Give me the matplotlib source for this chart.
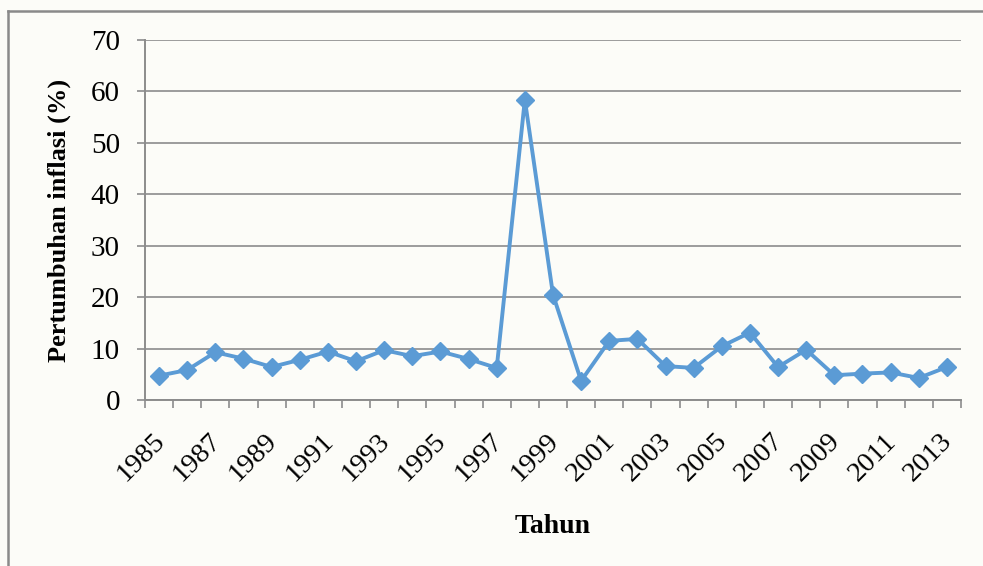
import matplotlib.pyplot as plt
from matplotlib.lines import Line2D
from matplotlib.ticker import FixedLocator
from matplotlib.transforms import ScaledTranslation

years = list(range(1985, 2014))
inflasi = [4.73, 5.83, 9.28, 8.04, 6.42, 7.81, 9.42, 7.53, 9.69, 8.52,
           9.43, 7.97, 6.23, 58.39, 20.49, 3.72, 11.50, 11.88, 6.59, 6.24,
           10.45, 13.11, 6.41, 9.78, 4.81, 5.13, 5.36, 4.28, 6.41]
y_ticks = [0, 10, 20, 30, 40, 50, 60, 70]

plt.rcParams["font.family"] = ["Liberation Serif", "DejaVu Serif"]
BG = "#fcfcf8"
GRID = "#8c8c8c"

fig = plt.figure(figsize=(9.83, 5.66), dpi=100, facecolor=BG)
ax = fig.add_axes([0.1475, 0.2933, 0.8301, 0.636])
ax.set_facecolor("none")

xs = list(range(len(years)))
ax.plot(xs, inflasi, color="#5b9bd5", linewidth=2.8, marker="D",
        markersize=9.5, markeredgecolor="#5b9bd5", markerfacecolor="#5b9bd5",
        zorder=3)

ax.set_xlim(-0.5, len(years) - 0.5)
ax.set_ylim(0, 70)
ax.set_yticks(y_ticks)
ax.set_yticklabels([str(v) for v in y_ticks], fontsize=21)
ax.yaxis.grid(True, color=GRID, linewidth=1.2)
ax.set_axisbelow(True)
ax.tick_params(axis="y", length=6, width=1.2, color=GRID, pad=12)

# category labels every other year, ticks on category boundaries
ax.set_xticks(xs[::2])
ax.set_xticklabels([str(y) for y in years[::2]], fontsize=20.5,
                   rotation=45, ha="right", va="top", rotation_mode="anchor")
ax.tick_params(axis="x", which="major", length=0, pad=12)
ax.xaxis.set_minor_locator(FixedLocator([i - 0.5 for i in range(len(years) + 1)]))
ax.tick_params(axis="x", which="minor", length=6, width=1.2, color=GRID)
shift = ScaledTranslation(-0.07, -0.12, fig.dpi_scale_trans)
for lab in ax.get_xticklabels():
    lab.set_transform(lab.get_transform() + shift)

for side in ["top", "right"]:
    ax.spines[side].set_visible(False)
for side in ["left", "bottom"]:
    ax.spines[side].set_color(GRID)
    ax.spines[side].set_linewidth(1.4)

ax.set_xlabel("Tahun", fontsize=20, fontweight="bold", labelpad=20)
ax.set_ylabel("Pertumbuhan inflasi (%)", fontsize=19, fontweight="bold",
              labelpad=14)

# outer chart border (only left and top visible in the crop)
fig.add_artist(Line2D([8 / 983, 8 / 983], [0, 1 - 11 / 566],
                      transform=fig.transFigure, color="#8a8a8a", linewidth=1.8))
fig.add_artist(Line2D([8 / 983, 1], [1 - 11 / 566, 1 - 11 / 566],
                      transform=fig.transFigure, color="#8a8a8a", linewidth=1.8))

fig.savefig("out.png", dpi=100, facecolor=BG)
